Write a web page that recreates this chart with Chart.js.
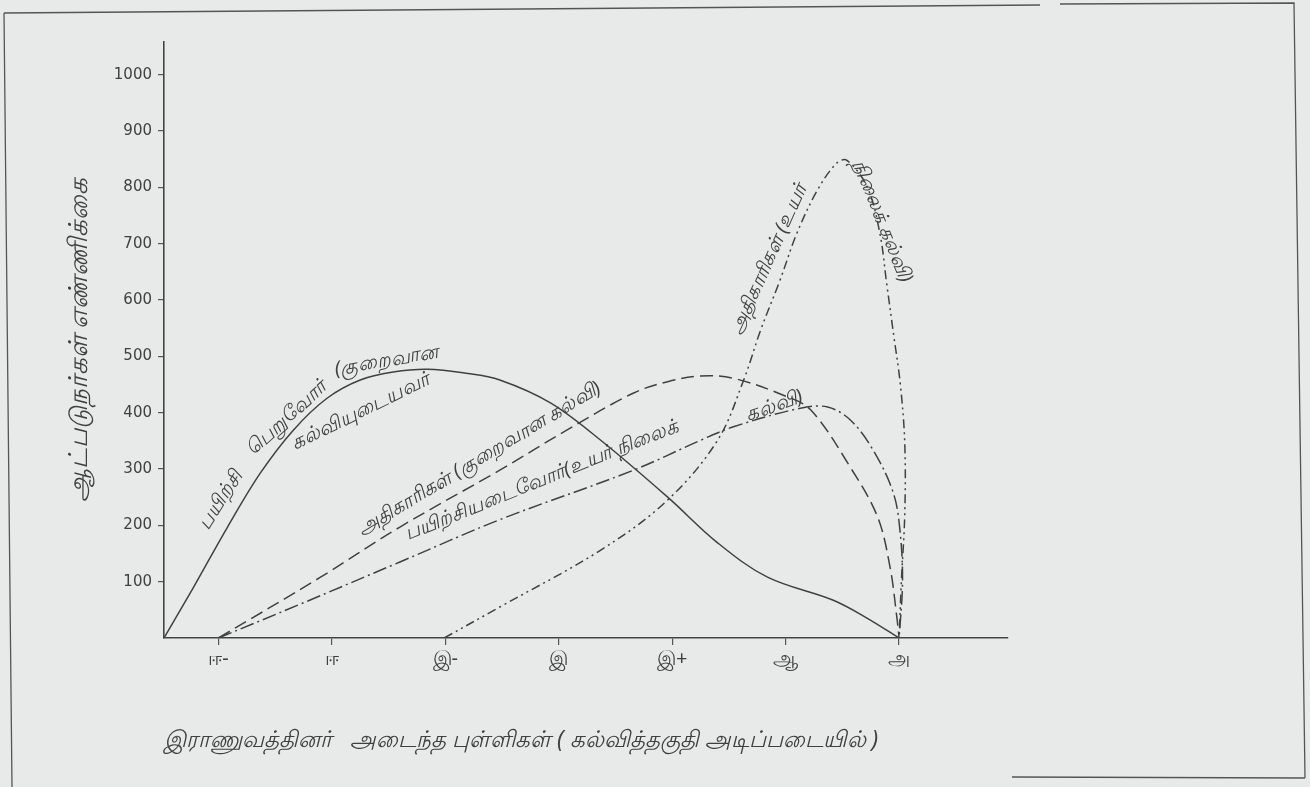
<!DOCTYPE html>
<html>
<head>
<meta charset="utf-8">
<script src="https://cdn.jsdelivr.net/npm/chart.js@4.4.1/dist/chart.umd.min.js"></script>
<style>
  html, body { margin: 0; padding: 0; background: #e8eaea; }
  #wrap { width: 1310px; height: 787px; }
</style>
</head>
<body>
<div id="wrap"><canvas id="myCanvas" width="1310" height="787"></canvas></div>
<script>
// grade categories along the x axis (index 0..6)
const gradeLabels = ['ஈ-', 'ஈ', 'இ-', 'இ', 'இ+', 'ஆ', 'அ'];
const yTickValues = [100, 200, 300, 400, 500, 600, 700, 800, 900, 1000];

// x = grade index, y = number of people
const traineesLowX = [-0.48, -0.22, 0.08, 0.37, 0.66, 0.96, 1.25, 1.54, 1.84, 2.18, 2.48, 2.93, 3.37, 3.96, 4.40, 4.84, 5.42, 5.72, 6.0];
const traineesLowY = [0, 90, 197, 293, 369, 426, 458, 472, 477, 470, 458, 417, 351, 250, 169, 108, 67, 35, 0];

const officersLowX = [0, 0.9, 1.6, 2.48, 3.07, 3.66, 3.96, 4.25, 4.54, 4.98, 5.22, 5.57, 5.81, 5.92, 5.98, 6.0];
const officersLowY = [0, 108, 197, 298, 369, 435, 455, 465, 461, 431, 405, 303, 215, 126, 37, 0];

const traineesHighX = [0, 0.72, 1.6, 2.48, 3.66, 4.25, 4.54, 5.13, 5.37, 5.57, 5.77, 5.95, 6.01, 6.03, 6.0];
const traineesHighY = [0, 60, 135, 210, 298, 351, 375, 408, 410, 387, 334, 257, 186, 98, 0];

const officersHighX = [1.99, 2.48, 3.37, 3.96, 4.40, 4.63, 4.78, 4.95, 5.10, 5.28, 5.45, 5.54, 5.72, 5.83, 5.89, 5.95, 6.01, 6.05, 6.05, 6.02, 6.0];
const officersHighY = [0, 55, 156, 245, 351, 458, 547, 635, 719, 795, 843, 848, 800, 719, 630, 541, 452, 346, 220, 100, 0];

// handwritten captions along the curves (data coords + angle)
const curveNotes = [
  { text: 'பயிற்சி', x: 0.02, y: 245, angle: -58 },
  { text: 'பெறுவோர்', x: 0.60, y: 390, angle: -42 },
  { text: '(குறைவான', x: 1.48, y: 492, angle: -10 },
  { text: 'கல்வியுடையவர்', x: 1.25, y: 402, angle: -26 },
  { text: 'அதிகாரிகள் (குறைவான கல்வி)', x: 2.30, y: 318, angle: -31 },
  { text: 'பயிற்சியடைவோர்(உயர் நிலைக்', x: 2.85, y: 280, angle: -22 },
  { text: 'கல்வி)', x: 4.90, y: 412, angle: -19 },
  { text: 'அதிகாரிகள் (உயர்', x: 4.85, y: 672, angle: -66 },
  { text: 'நிலைக் கல்வி)', x: 5.85, y: 740, angle: 68 }
];

const ink = '#404040';

function toPoints(xs, ys) {
  return xs.map((x, i) => ({ x: x, y: ys[i] }));
}

const paperPlugin = {
  id: 'paper',
  beforeDraw(chart) {
    const ctx = chart.ctx;
    ctx.save();
    ctx.fillStyle = '#e8eaea';
    ctx.fillRect(0, 0, chart.width, chart.height);
    ctx.strokeStyle = '#555';
    ctx.lineWidth = 1.3;
    ctx.beginPath();
    ctx.moveTo(4, 13); ctx.lineTo(1040, 5);
    ctx.moveTo(1060, 4); ctx.lineTo(1294, 3);
    ctx.lineTo(1305, 778);
    ctx.moveTo(1305, 778); ctx.lineTo(1012, 777);
    ctx.moveTo(4, 13); ctx.lineTo(12, 787);
    ctx.stroke();
    ctx.restore();
  }
};

const notesPlugin = {
  id: 'notes',
  afterDatasetsDraw(chart) {
    const { ctx, scales: { x, y } } = chart;
    ctx.save();
    ctx.font = 'italic 20px "Noto Sans", sans-serif';
    ctx.fillStyle = ink;
    ctx.textAlign = 'center';
    ctx.textBaseline = 'middle';
    curveNotes.forEach(n => {
      ctx.save();
      ctx.translate(x.getPixelForValue(n.x), y.getPixelForValue(n.y));
      ctx.rotate(n.angle * Math.PI / 180);
      ctx.fillText(n.text, 0, 0);
      ctx.restore();
    });
    ctx.restore();
  }
};

function init() {
  const ctx = document.getElementById('myCanvas').getContext('2d');
  const myChart = new Chart(ctx, {
    type: 'line',
    data: {
      datasets: [{
        label: 'பயிற்சி பெறுவோர் (குறைவான கல்வியுடையவர்)',
        data: toPoints(traineesLowX, traineesLowY),
        borderColor: ink,
        borderWidth: 1.5
      }, {
        label: 'அதிகாரிகள் (குறைவான கல்வி)',
        data: toPoints(officersLowX, officersLowY),
        borderColor: ink,
        borderWidth: 1.5,
        borderDash: [13, 6]
      }, {
        label: 'பயிற்சியடைவோர் (உயர் நிலைக் கல்வி)',
        data: toPoints(traineesHighX, traineesHighY),
        borderColor: ink,
        borderWidth: 1.5,
        borderDash: [14, 4, 2, 4]
      }, {
        label: 'அதிகாரிகள் (உயர் நிலைக் கல்வி)',
        data: toPoints(officersHighX, officersHighY),
        borderColor: ink,
        borderWidth: 1.5,
        borderDash: [9, 4, 2, 4, 2, 4]
      }]
    },
    options: {
      responsive: false,
      animation: false,
      devicePixelRatio: 1,
      layout: { padding: { left: 0, top: 42, right: 302, bottom: 0 } },
      elements: {
        point: { radius: 0 },
        line: { tension: 0.35, fill: false }
      },
      plugins: {
        legend: { display: false },
        tooltip: { enabled: false }
      },
      scales: {
        x: {
          type: 'linear',
          min: -0.48,
          max: 6.96,
          afterBuildTicks: axis => { axis.ticks = gradeLabels.map((l, i) => ({ value: i })); },
          afterFit: scale => { scale.height = 149; },
          ticks: {
            callback: v => gradeLabels[v],
            color: ink,
            font: { family: '"Noto Sans", sans-serif', size: 20 },
            padding: 2,
            maxRotation: 0,
            autoSkip: false
          },
          grid: { drawOnChartArea: false, tickLength: 7, color: '#555', lineWidth: 1.2 },
          border: { color: '#444', width: 1.6 },
          title: {
            display: true,
            text: 'இராணுவத்தினர்   அடைந்த புள்ளிகள் ( கல்வித்தகுதி அடிப்படையில் )',
            align: 'start',
            color: ink,
            font: { family: '"Noto Sans", sans-serif', size: 23, style: 'italic' },
            padding: { bottom: 33 }
          }
        },
        y: {
          min: 0,
          max: 1058,
          afterBuildTicks: axis => { axis.ticks = yTickValues.map(v => ({ value: v })); },
          afterFit: scale => { scale.width = 164; },
          ticks: {
            callback: v => String(v),
            color: ink,
            font: { family: '"DejaVu Sans", sans-serif', size: 15 },
            padding: 6
          },
          grid: { drawOnChartArea: false, tickLength: 6, color: '#555', lineWidth: 1.2 },
          border: { color: '#444', width: 1.6 },
          title: {
            display: true,
            text: 'ஆட்படுநர்கள் எண்ணிக்கை',
            color: ink,
            font: { family: '"Noto Sans", sans-serif', size: 26, style: 'italic' },
            padding: { top: 64 }
          }
        }
      }
    },
    plugins: [paperPlugin, notesPlugin]
  });
}

document.addEventListener('DOMContentLoaded', init);
</script>
</body>
</html>
